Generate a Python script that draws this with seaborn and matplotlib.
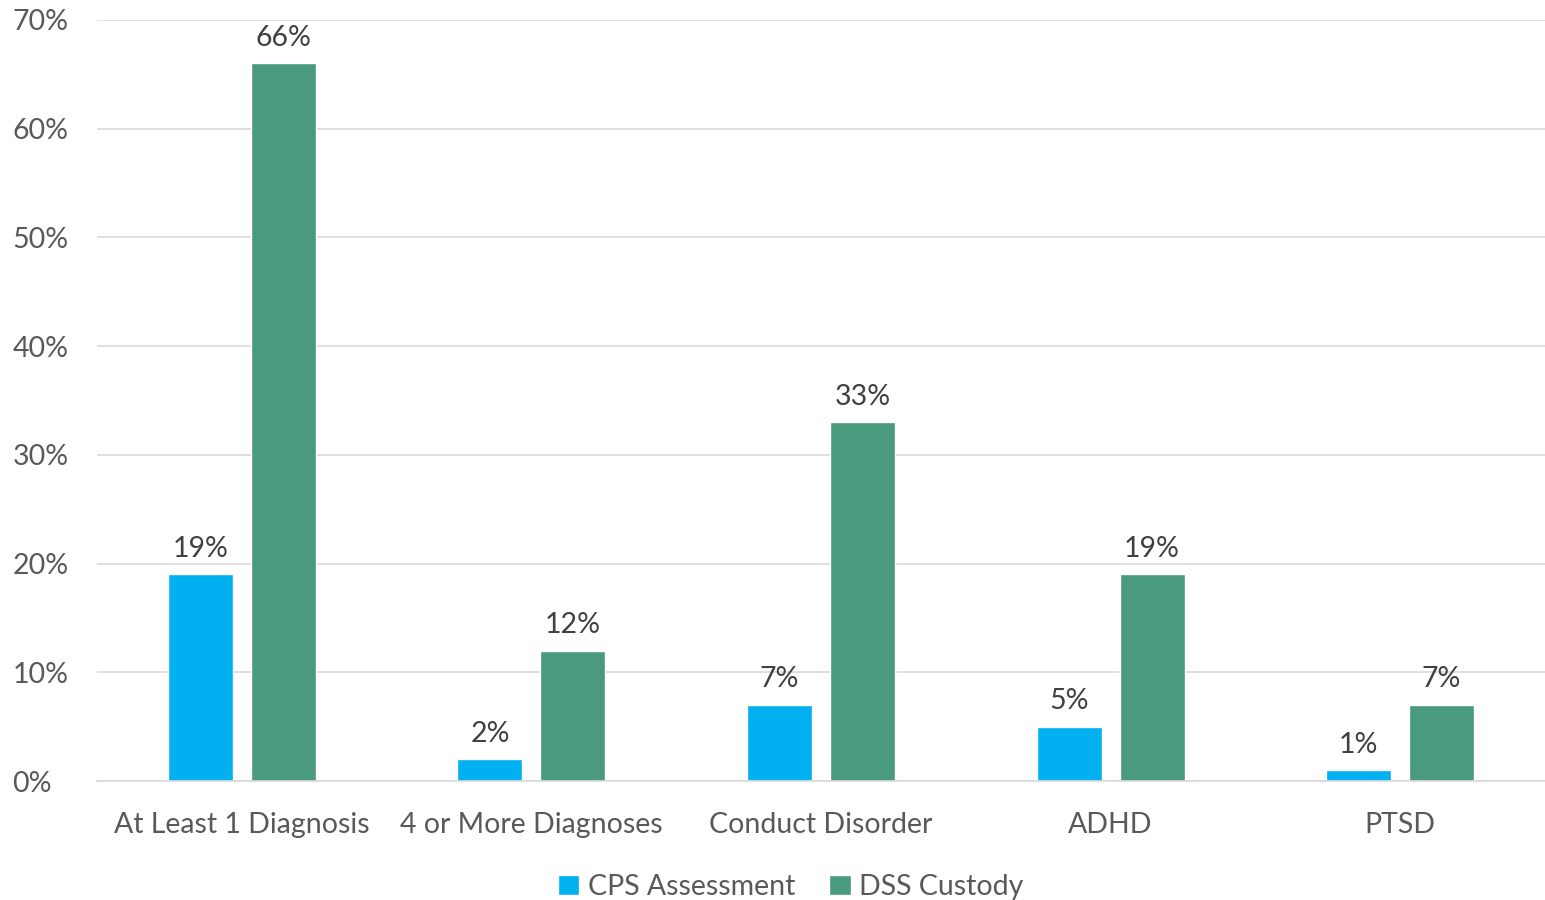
import matplotlib
matplotlib.use("Agg")
import matplotlib.pyplot as plt
import seaborn as sns
import pandas as pd

categories = ["At Least 1 Diagnosis", "4 or More Diagnoses", "Conduct Disorder", "ADHD", "PTSD"]
cps_values = [19, 2, 7, 5, 1]
dss_values = [66, 12, 33, 19, 7]
series_names = ["CPS Assessment", "DSS Custody"]
colors = ["#00B0F0", "#4A9A7E"]
yticks = [0, 10, 20, 30, 40, 50, 60, 70]

df = pd.DataFrame({
    "category": categories * 2,
    "value": cps_values + dss_values,
    "series": [series_names[0]] * len(categories) + [series_names[1]] * len(categories),
})

sns.set_style("white")
plt.rcParams["font.family"] = ["Lato", "DejaVu Sans"]

fig = plt.figure(figsize=(15.45, 9.0), dpi=100)
ax = fig.add_axes([0.0628, 0.1322, 0.9372, 0.8456])

sns.barplot(data=df, x="category", y="value", hue="series", order=categories,
            hue_order=series_names, palette=colors, width=0.573, gap=0.217,
            saturation=1, ax=ax, legend=True)

for container in ax.containers:
    ax.bar_label(container, labels=[f"{v:.0f}%" for v in container.datavalues],
                 padding=9, fontsize=20.5, color="#404040")

ax.set_ylim(0, 70)
ax.set_xlim(-0.5, len(categories) - 0.5)
ax.set_yticks(yticks)
ax.set_yticklabels([f"{t}%" for t in yticks])
ax.yaxis.grid(True, color="#D9D9D9", linewidth=1.2)
ax.set_axisbelow(True)
for s in ["top", "right", "left"]:
    ax.spines[s].set_visible(False)
ax.spines["bottom"].set_color("#D9D9D9")
ax.spines["bottom"].set_linewidth(1.2)
ax.tick_params(axis="both", length=0, labelsize=20.5, labelcolor="#595959")
ax.tick_params(axis="x", pad=22)
ax.tick_params(axis="y", pad=61)
for lbl in ax.get_yticklabels():
    lbl.set_horizontalalignment("left")
ax.set_xlabel("")
ax.set_ylabel("")

leg = ax.legend(loc="lower center", bbox_to_anchor=(0.479, -0.19), ncol=2, frameon=False,
                fontsize=20.5, handlelength=0.75, handleheight=0.75, handletextpad=0.3,
                columnspacing=1.2, labelcolor="#595959")

fig.savefig("out.png", dpi=100)
